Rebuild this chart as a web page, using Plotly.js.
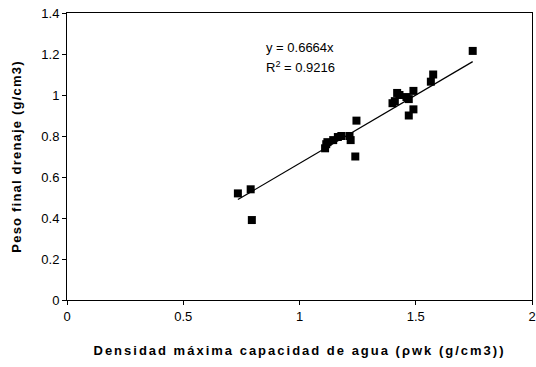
<!DOCTYPE html>
<html>
<head>
<meta charset="utf-8">
<script src="https://cdn.plot.ly/plotly-3.0.1.min.js"></script>
<style>html,body{margin:0;padding:0;background:#fff;}#chart{width:536px;height:367px;}</style>
</head>
<body>
<div id="chart"></div>
<script>
// Densidad máxima capacidad de agua (g/cm3)
const densidad = [0.735, 0.79, 0.795, 1.11, 1.115, 1.12, 1.145, 1.165, 1.18, 1.215, 1.22, 1.24, 1.245,
                  1.40, 1.41, 1.42, 1.43, 1.46, 1.47, 1.47, 1.49, 1.49, 1.565, 1.575, 1.745];
// Peso final drenaje (g/cm3)
const peso = [0.52, 0.54, 0.39, 0.74, 0.76, 0.77, 0.78, 0.795, 0.80, 0.80, 0.78, 0.70, 0.875,
              0.96, 0.97, 1.01, 1.00, 0.99, 0.98, 0.90, 1.02, 0.93, 1.065, 1.10, 1.215];
const slope = 0.6664;
const r2 = 0.9216;
const xTicks = [0, 0.5, 1, 1.5, 2];
const yTicks = [0, 0.2, 0.4, 0.6, 0.8, 1, 1.2, 1.4];

const xMin = Math.min(...densidad), xMax = Math.max(...densidad);
const trendX = [xMin, xMax];
const trendY = trendX.map(v => slope * v);

const font = {family: 'Liberation Sans, Arial, sans-serif', color: '#000'};

const data = [
  {x: densidad, y: peso, mode: 'markers', type: 'scatter',
   marker: {symbol: 'square', size: 8, color: '#000'}, hoverinfo: 'skip'},
  {x: trendX, y: trendY, mode: 'lines', type: 'scatter',
   line: {color: '#000', width: 1.2}, hoverinfo: 'skip'}
];

const layout = {
  width: 536, height: 367,
  margin: {l: 67, r: 4, t: 13, b: 67},
  paper_bgcolor: '#fff', plot_bgcolor: '#fff',
  showlegend: false,
  font: Object.assign({size: 13}, font),
  xaxis: {
    range: [0, 2], tickvals: xTicks, ticktext: xTicks.map(String),
    showgrid: false, zeroline: false, showline: true, linecolor: '#000', linewidth: 1,
    mirror: true, ticks: 'outside', ticklen: 4, tickcolor: '#000',
    tickfont: Object.assign({size: 13}, font),
    title: {text: '<span style="letter-spacing:2px">Densidad máxima capacidad de agua (ρwk (g/cm3))</span>',
            font: Object.assign({size: 13, weight: 'bold'}, font), standoff: 23}
  },
  yaxis: {
    range: [0, 1.4], tickvals: yTicks, ticktext: yTicks.map(String),
    showgrid: false, zeroline: false, showline: true, linecolor: '#000', linewidth: 1,
    mirror: true, ticks: 'outside', ticklen: 4, tickcolor: '#000',
    tickfont: Object.assign({size: 13}, font),
    title: {text: '<span style="letter-spacing:1.2px">Peso final drenaje (g/cm3)</span>',
            font: Object.assign({size: 13, weight: 'bold'}, font), standoff: 16}
  },
  annotations: [
    {xref: 'paper', yref: 'paper', x: (300 - 67) / 465, y: (300 - 47) / 287,
     text: 'y = ' + slope + 'x', showarrow: false, xanchor: 'center', yanchor: 'middle',
     font: Object.assign({size: 13}, font)},
    {xref: 'paper', yref: 'paper', x: (300 - 67) / 465, y: (300 - 67) / 287,
     text: 'R<sup>2</sup> = ' + r2, showarrow: false, xanchor: 'center', yanchor: 'middle',
     font: Object.assign({size: 13}, font)}
  ]
};

Plotly.newPlot('chart', data, layout, {displayModeBar: false, staticPlot: true});
</script>
</body>
</html>
